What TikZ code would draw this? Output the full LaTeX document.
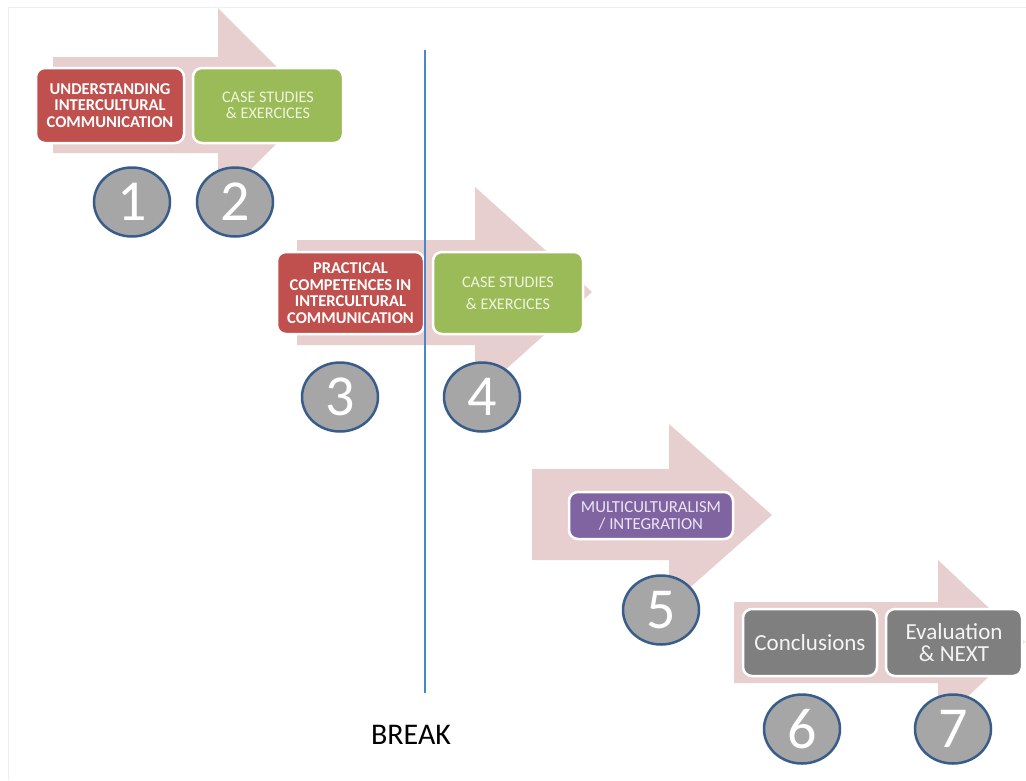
\documentclass[tikz,border=0pt]{standalone}
\usepackage{fontspec}
\setmainfont{Carlito}
\usetikzlibrary{shapes.geometric}
\definecolor{arrowpink}{RGB}{231,206,207}
\definecolor{boxred}{RGB}{192,80,77}
\definecolor{boxgreen}{RGB}{155,187,89}
\definecolor{boxpurple}{RGB}{128,100,162}
\definecolor{boxgray}{RGB}{127,127,127}
\definecolor{circfill}{RGB}{166,166,166}
\definecolor{circline}{RGB}{56,93,138}
\definecolor{breakline}{RGB}{74,134,200}
\definecolor{greentext}{RGB}{238,244,222}
\definecolor{purpletext}{RGB}{236,230,244}
\definecolor{graytext}{RGB}{244,244,244}
\definecolor{framegray}{RGB}{238,238,238}
\tikzset{
  bigarrow/.style={fill=arrowpink, draw=none},
  stagebox/.style={rounded corners=9pt, draw=white, line width=2.5pt, inner sep=0pt, align=center},
  redbox/.style={stagebox, fill=boxred, text=white, font=\bfseries\fontsize{16.5}{16.5}\selectfont},
  greenbox/.style={stagebox, fill=boxgreen, text=greentext, font=\fontsize{16.2}{16.5}\selectfont},
  purplebox/.style={stagebox, fill=boxpurple, text=purpletext, font=\fontsize{16.8}{17}\selectfont},
  graybox/.style={stagebox, fill=boxgray, text=graytext, font=\fontsize{23}{22}\selectfont},
  numcirc/.style={ellipse, fill=circfill, draw=circline, line width=2.5pt, minimum width=76pt, minimum height=69pt, inner sep=0pt, text=white, font=\fontsize{58}{58}\selectfont}
}
\begin{document}
\begin{tikzpicture}[x=1pt, y=-1pt]
\useasboundingbox (0,0) rectangle (1026,780);
\fill[white] (0,0) rectangle (1026,780);
% faint frame
\coordinate (f0) at (8,7);
\coordinate (f1) at (1026,7);
\coordinate (f2) at (8,780);
\draw[framegray, line width=1pt] (f1) -- (f0) -- (f2);
% arrows
\fill[bigarrow] (53,57) -- (218,57) -- (218,8) -- (315,105) -- (218,202) -- (218,153) -- (53,153) -- cycle;
\fill[bigarrow] (297,240) -- (475,240) -- (475,187) -- (592,292) -- (475,397) -- (475,345) -- (297,345) -- cycle;
\fill[bigarrow] (532,469) -- (669,469) -- (669,424) -- (772,515) -- (669,606) -- (669,560) -- (532,560) -- cycle;
\fill[bigarrow] (734,602) -- (938,602) -- (938,560) -- (1025,642) -- (938,725) -- (938,683) -- (734,683) -- cycle;
% boxes
\node[redbox, minimum width=148pt, minimum height=75pt] (b1) at (110,105.5) {UNDERSTANDING\\INTERCULTURAL\\COMMUNICATION};
\node[greenbox, minimum width=150pt, minimum height=75pt] (b2) at (268,105.5) {CASE STUDIES\\\& EXERCICES};
\node[redbox, minimum width=147pt, minimum height=82pt] (b3) at (350.5,293) {PRACTICAL\\COMPETENCES IN\\INTERCULTURAL\\COMMUNICATION};
\node[greenbox, minimum width=150pt, minimum height=82pt, font=\fontsize{16.2}{22}\selectfont] (b4) at (508,293) {CASE STUDIES\\\& EXERCICES};
\node[purplebox, minimum width=164pt, minimum height=47pt] (b5) at (651,515.5) {MULTICULTURALISM\\/ INTEGRATION};
\node[graybox, minimum width=134pt, minimum height=67pt] (b6) at (810,642.5) {Conclusions};
\node[graybox, minimum width=136pt, minimum height=67pt] (b7) at (954,642.5) {Evaluation\\\& NEXT};
% break line
\coordinate (lt) at (425,50);
\coordinate (lb) at (425,693);
\draw[breakline, line width=1.5pt] (lt) -- (lb);
\node[font=\fontsize{30}{30}\selectfont, text=black] (brk) at (411,735) {BREAK};
% circles
\node[numcirc] (c1) at (132,202) {1};
\node[numcirc] (c2) at (235,202) {2};
\node[numcirc] (c3) at (340,397) {3};
\node[numcirc] (c4) at (482,397) {4};
\node[numcirc] (c5) at (661,610) {5};
\node[numcirc] (c6) at (802,729) {6};
\node[numcirc] (c7) at (953,729) {7};
\end{tikzpicture}
\end{document}
